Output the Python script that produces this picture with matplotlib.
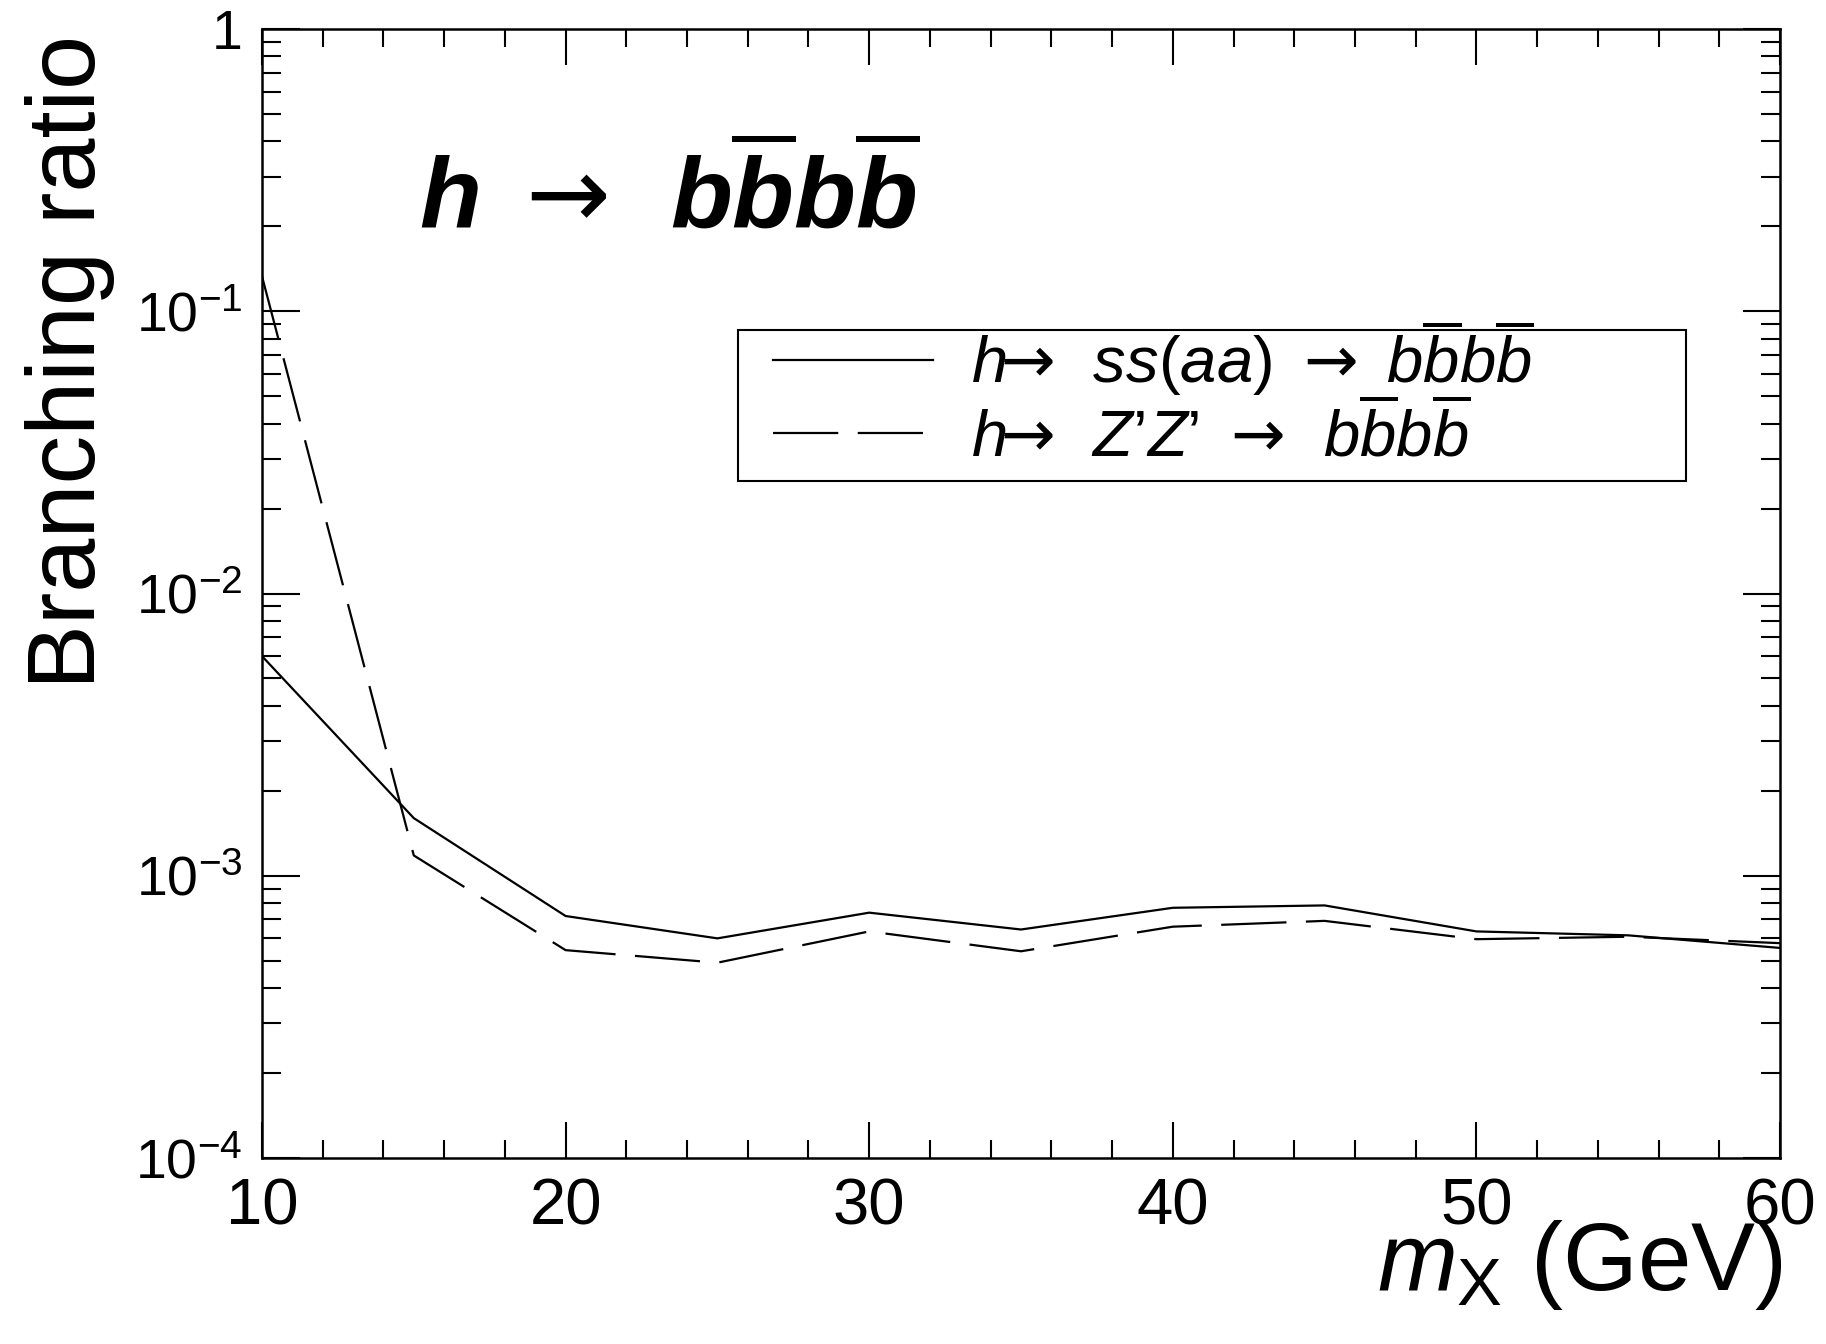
import math
import matplotlib
matplotlib.use("Agg")
import matplotlib.pyplot as plt
from matplotlib.patches import Rectangle
from matplotlib.ticker import FixedLocator, MultipleLocator, LogLocator, FuncFormatter, NullFormatter

plt.rcParams["font.family"] = ["Liberation Sans", "DejaVu Sans"]
plt.rcParams["mathtext.fontset"] = "custom"
plt.rcParams["mathtext.rm"] = "Liberation Sans"
plt.rcParams["mathtext.it"] = "Liberation Sans:italic"
plt.rcParams["mathtext.bf"] = "Liberation Sans:bold"
plt.rcParams["mathtext.bfit"] = "Liberation Sans:bold:italic"
plt.rcParams["mathtext.sf"] = "DejaVu Sans"  # used for the arrows
plt.rcParams["lines.scale_dashes"] = False

# Scalar mass (GeV) and branching ratios for the two decay chains
m_x = [10, 15, 20, 25, 30, 35, 40, 45, 50, 55, 60]
br_ss = [6.0e-3, 1.60e-3, 7.2e-4, 6.0e-4, 7.4e-4, 6.45e-4, 7.7e-4, 7.85e-4, 6.35e-4, 6.15e-4, 5.55e-4]
br_zz = [1.33e-1, 1.18e-3, 5.45e-4, 4.92e-4, 6.35e-4, 5.4e-4, 6.6e-4, 6.92e-4, 5.96e-4, 6.08e-4, 5.77e-4]

x_major = [10, 20, 30, 40, 50, 60]
y_major = [1e-4, 1e-3, 1e-2, 1e-1, 1]

label_ss = r"$h\!\!\mathsf{\rightarrow}\ \,ss(aa)\ \mathsf{\rightarrow}\ b\overline{b}b\overline{b}$"
label_zz = r"$h\!\!\mathsf{\rightarrow}\ \,Z$’$Z$’ $\mathsf{\rightarrow}\ \,b\overline{b}b\overline{b}$"

fig = plt.figure(figsize=(18.26, 13.44), dpi=100)
ax = fig.add_axes([262 / 1826, 1 - 1158 / 1344, 1518 / 1826, 1129 / 1344])

ax.plot(m_x, br_ss, color="black", lw=1.6, label=label_ss)
ax.plot(m_x, br_zz, color="black", lw=1.6, dashes=(47, 14), label=label_zz)

ax.set_yscale("log")
ax.set_xlim(10, 60)
ax.set_ylim(1e-4, 1)

ax.xaxis.set_major_locator(FixedLocator(x_major))
ax.xaxis.set_minor_locator(MultipleLocator(2))
ax.yaxis.set_major_locator(FixedLocator(y_major))
ax.yaxis.set_minor_locator(LogLocator(base=10, subs=range(2, 10), numticks=20))
ax.yaxis.set_minor_formatter(NullFormatter())


def decade_label(v, pos):
    if v >= 1:
        return "1"
    exp = int(round(math.log10(v)))
    return r"$\mathregular{10^{-%d}}$" % (-exp)


ax.yaxis.set_major_formatter(FuncFormatter(decade_label))

ax.tick_params(which="both", direction="in", top=True, right=True, width=1.5, color="black")
ax.tick_params(axis="x", which="major", length=26, labelsize=47, pad=14)
ax.tick_params(axis="x", which="minor", length=13)
ax.tick_params(axis="y", which="major", length=27, labelsize=40, pad=14)
ax.tick_params(axis="y", which="minor", length=14)
for sp in ax.spines.values():
    sp.set_linewidth(1.8)

ax.set_xlabel(r"$m_{\mathregular{X}}$ (GeV)", fontsize=69, loc="right", labelpad=0)
ax.xaxis.set_label_coords(1.002, -0.117)
ax.xaxis.label.set_va("baseline")
ax.set_ylabel("Branching ratio", fontsize=70, loc="top")
ax.yaxis.set_label_coords(-0.097, 0.9947)

ax.text(0.1034, 0.8237,
        r"$\mathbfit{h}\ \mathsf{\rightarrow}\ \,\mathbfit{b\overline{b}b\overline{b}}$",
        transform=ax.transAxes, fontsize=73, ha="left", va="baseline")

# Legend frame and entries
ax.add_patch(Rectangle((0.3133, 0.5999), 0.6245, 0.1335, transform=ax.transAxes,
                       fill=False, edgecolor="black", lw=1.5, zorder=5))
leg = ax.legend(loc="upper left", bbox_to_anchor=(0.3366, 0.7440), borderaxespad=0,
                borderpad=0, fontsize=47, frameon=False, handlelength=2.45,
                handletextpad=0.58, labelspacing=0.06)

fig.savefig("out.png", dpi=100, facecolor="white")
